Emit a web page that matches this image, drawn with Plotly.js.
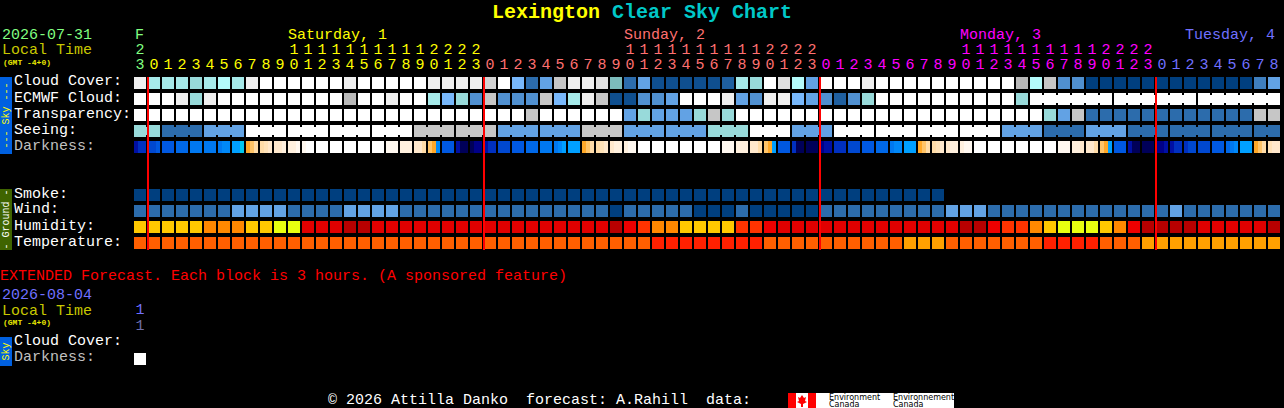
<!DOCTYPE html>
<html>
<head>
<meta charset="utf-8">
<script src="https://cdn.plot.ly/plotly-3.0.1.min.js"></script>
<style>html,body{margin:0;padding:0;background:#000;overflow:hidden}#chart{width:1284px;height:408px}</style>
</head>
<body>
<div id="chart"></div>
<script>
// ---------- values ----------
const hourDigits = [3,0,1,2,3,4,5,6,7,8,9,0,1,2,3,4,5,6,7,8,9,0,1,2,3,
  0,1,2,3,4,5,6,7,8,9,0,1,2,3,4,5,6,7,8,9,0,1,2,3,
  0,1,2,3,4,5,6,7,8,9,0,1,2,3,4,5,6,7,8,9,0,1,2,3,
  0,1,2,3,4,5,6,7,8];
const tensDigits = [2,'','','','','','','','','','',1,1,1,1,1,1,1,1,1,1,2,2,2,2,
  '','','','','','','','','','',1,1,1,1,1,1,1,1,1,1,2,2,2,2,
  '','','','','','','','','','',1,1,1,1,1,1,1,1,1,1,2,2,2,2,
  '','','','','','','','',''];
const dayOfColumn = [
  'Fri',
  'Sat','Sat','Sat','Sat','Sat','Sat','Sat','Sat','Sat','Sat','Sat','Sat','Sat','Sat','Sat','Sat','Sat','Sat','Sat','Sat','Sat','Sat','Sat','Sat',
  'Sun','Sun','Sun','Sun','Sun','Sun','Sun','Sun','Sun','Sun','Sun','Sun','Sun','Sun','Sun','Sun','Sun','Sun','Sun','Sun','Sun','Sun','Sun','Sun',
  'Mon','Mon','Mon','Mon','Mon','Mon','Mon','Mon','Mon','Mon','Mon','Mon','Mon','Mon','Mon','Mon','Mon','Mon','Mon','Mon','Mon','Mon','Mon','Mon',
  'Tue','Tue','Tue','Tue','Tue','Tue','Tue','Tue','Tue'];
const midnightColumns = [1,25,49,73];

const cloudCover = [95,65,65,65,60,65,70,65,95,100,100,100,100,100,100,95,100,100,100,100,100,
  95,95,95,95,85,100,50,20,40,80,95,95,90,55,20,40,10,10,10,10,10,15,65,60,100,90,70,40,100,100,100,
  95,100,100,100,100,100,100,100,100,100,100,75,70,80,30,30,0,0,0,0,0,0,0,0,0,0,0,0,25,40];
const ecmwfCloud = [100,100,100,95,60,95,100,100,100,100,100,100,100,100,100,75,100,100,95,100,100,
  65,50,60,30,80,30,30,30,80,50,65,95,80,10,10,30,30,40,100,100,100,95,40,30,95,95,50,40,30,15,30,
  60,100,100,100,100,100,100,100,100,100,100,60,100,100,100,100,100,100,100,100,100,100,100,100,100,100,100,100,100,100];
const ecmwfBlockStarts = [64,70,76];
const transparency = [100,100,100,100,100,100,100,100,100,100,100,100,100,100,100,100,100,100,100,100,100,100,100,100,100,100,100,100,
  80,100,100,100,100,100,100,40,60,40,40,40,60,80,60,
  100,100,100,100,100,100,100,100,100,100,100,100,100,100,100,100,100,100,100,100,100,100,
  60,40,80,20,20,20,20,20,20,20,20,20,20,20,20,80,80];
const seeing = [60,60,20,20,20,40,40,40,100,100,100,100,100,100,100,100,100,100,100,100,80,80,80,80,80,80,
  40,40,40,40,40,40,80,80,80,40,40,40,40,40,40,60,60,60,100,100,100,40,40,40,
  100,100,100,100,100,100,100,100,100,100,100,100,40,40,40,20,20,20,40,40,40,20,20,20,20,20,20,20,20,20,20,20];
const seeingBlockStarts = [0,2,5,8,11,14,17,20,23,26,29,32,35,38,41,44,47,50,53,56,59,62,65,68,71,74,77,80];
const darkness = [[15,20,20],[25,25,30],[30,30,30],[35,35,35],[40,40,40],[40,40,40],[40,45,45],[50,50,55],
  [60,65,70],[70,72,75],[75,75,80],[80,80,85],[85,100,100],[100,100,100],[100,100,100],[100,100,100],[100,100,100],[100,100,100],
  [85,85,85],[80,80,80],[75,75,70],[65,60,45],[30,30,30],[15,5,5],[5,10,10],
  [15,20,20],[25,25,25],[30,30,30],[35,35,35],[40,40,40],[40,45,50],[50,50,50],
  [60,65,70],[70,72,75],[75,80,80],[80,85,85],[100,100,100],[100,100,100],[100,100,100],[100,100,100],[100,100,100],[100,100,100],
  [85,85,85],[80,80,80],[75,75,70],[65,60,50],[30,30,30],[20,5,5],[5,5,5],
  [10,15,15],[20,20,20],[25,25,25],[30,30,30],[35,35,35],[40,45,45],[50,50,50],
  [60,65,70],[70,72,75],[75,80,80],[80,85,85],[100,100,100],[100,100,100],[100,100,100],[100,100,100],[100,100,100],[100,100,100],
  [85,85,85],[80,80,75],[75,75,70],[65,60,50],[30,30,30],[15,5,5],[5,5,5],
  [10,10,15],[15,20,20],[20,25,25],[25,25,25],[30,30,30],[35,40,45],[50,50,50],[60,65,70],[72,75,75]];
const smoke = [0,0,0,0,0,0,0,0,0,0,0,0,0,0,0,0,0,0,0,0,0,0,0,0,0,0,0,0,0,0,0,0,0,0,0,0,0,0,0,0,0,0,0,0,0,0,0,0,0,0,0,0,0,0,0,0,0,0];
const wind = [20,20,20,20,20,20,20,40,40,40,40,20,20,20,20,40,40,40,40,
  20,20,20,20,20,20,20,20,20,20,20,20,20,20,20,0,20,20,20,20,20,0,0,0,20,0,0,0,0,0,
  20,20,20,20,20,20,20,20,20,40,40,40,20,20,20,20,20,20,20,20,20,20,20,20,20,40,20,20,20,20,20,20,20];
const humidity = [65,65,65,65,65,70,70,70,65,65,55,55,90,90,90,95,95,
  90,90,90,90,90,90,90,90,90,90,90,90,90,90,90,90,90,95,85,80,70,70,65,65,65,65,80,80,85,
  90,90,90,90,90,90,90,90,90,90,90,90,90,95,95,85,80,80,70,65,55,55,55,65,70,85,95,95,95,95,90,90,90,90,90,95];
const temperature = [23,23,23,23,23,23,23,23,23,23,23,23,23,23,23,23,23,23,23,23,23,23,23,23,23,23,23,23,23,23,23,23,23,23,23,23,23,
  27,27,27,27,27,27,27,27,23,23,23,23,23,23,23,23,23,23,19,19,19,
  23,23,23,23,23,23,23,27,27,27,27,23,23,23,19,19,19,19,19,19,19,19,19,19];
const extendedDarkness = [100];

// ---------- colour keys ----------
const skyColors = {100:'#ffffff',95:'#efefef',90:'#e0e0e0',85:'#d2d2d2',80:'#c6c6c6',75:'#b8b8b8',70:'#b4fbfb',65:'#a6eaea',
  60:'#98dada',55:'#7cbcbc',50:'#78b8fb',40:'#62a2e4',30:'#5090d0',25:'#3f7fbf',20:'#2c6cac',15:'#1f5f9f',10:'#0f4f8f',0:'#003f7f'};
const darknessColors = {5:'#000058',10:'#000088',15:'#0010a4',20:'#0030c0',25:'#0048d0',30:'#0058e0',35:'#0068e8',40:'#0078f0',
  45:'#0088f8',50:'#00a0ff',55:'#00c8f0',60:'#ffa828',65:'#ffc468',70:'#ffdca8',72:'#ffe2b8',75:'#ffe8cc',80:'#fff0de',85:'#fff8f0',100:'#ffffff'};
const humidityColors = {55:'#e8ff10',65:'#ffc800',70:'#ff8800',80:'#ff3300',85:'#ee0000',90:'#e00000',95:'#b80000'};
const temperatureColors = {19:'#ffa000',23:'#ff5f00',27:'#ff2000'};
const dayColors = {Fri:'#80ff80',Sat:'#ffff00',Sun:'#ff7070',Mon:'#ff00ff',Tue:'#7070ff'};

// ---------- layout constants ----------
const W = 1284, H = 408, COL = 14, ROW = 16, CELL = 12;
const FONT = 'Liberation Mono, monospace';
const colOfPx = px => (px - 140) / COL;
const rowOfPx = py => (py - 83) / ROW;
const hRow = CELL / ROW, wCol = CELL / COL;

function cellTrace(values, row, colors) {
  const xs = values.map((_, k) => k);
  return {type:'bar', x:xs, y:xs.map(() => hRow), base:xs.map(() => row - hRow / 2), width:wCol,
    marker:{color:values.map(v => colors[v]), line:{width:0}}, hoverinfo:'skip'};
}
// small bridges inside a multi-hour forecast block: from the first block start to the end of the row
function joinTrace(values, row, starts, colors) {
  const xs = values.map((_, k) => k).filter(k => k >= starts[0] && k + 1 < values.length && !starts.includes(k + 1));
  const h = 8 / ROW;
  return {type:'bar', x:xs.map(k => k + 0.5), y:xs.map(() => h), base:xs.map(() => row - h / 2), width:2 / COL,
    marker:{color:xs.map(k => colors[values[k]]), line:{width:0}}, hoverinfo:'skip'};
}
function darknessTrace(samples, row) {
  const x = [], c = [];
  samples.forEach((s, k) => s.forEach((v, j) => { x.push(k + (j - 1) * 4 / COL); c.push(darknessColors[v]); }));
  return {type:'bar', x:x, y:x.map(() => hRow), base:x.map(() => row - hRow / 2), width:4 / COL,
    marker:{color:c, line:{width:0}}, hoverinfo:'skip'};
}
function digitTrace(digits, py, colorFn) {
  const xs = digits.map((_, k) => k);
  return {type:'scatter', mode:'text', x:xs, y:xs.map(() => rowOfPx(py)), text:digits.map(String),
    textposition:'middle center', textfont:{family:FONT, size:15, color:xs.map(colorFn)}, hoverinfo:'skip', cliponaxis:false};
}

const traces = [
  cellTrace(cloudCover, 0, skyColors),
  cellTrace(ecmwfCloud, 1, skyColors),
  joinTrace(ecmwfCloud, 1, ecmwfBlockStarts, skyColors),
  cellTrace(transparency, 2, skyColors),
  cellTrace(seeing, 3, skyColors),
  joinTrace(seeing, 3, seeingBlockStarts, skyColors),
  darknessTrace(darkness, 4),
  cellTrace(smoke, 7, skyColors),
  cellTrace(wind, 8, skyColors),
  cellTrace(humidity, 9, humidityColors),
  cellTrace(temperature, 10, temperatureColors),
  darknessTrace(extendedDarkness.map(v => [v, v, v]), rowOfPx(359)),
  digitTrace(tensDigits, 50, k => dayColors[dayOfColumn[k]]),
  digitTrace(hourDigits, 65, k => dayColors[dayOfColumn[k]]),
  digitTrace([1], 310, () => dayColors.Tue),
  digitTrace([1], 326, () => '#6f6fa8')
];

function label(text, x, y, color, size, extra) {
  return Object.assign({text:text, xref:'paper', yref:'paper', x:x / W, y:1 - y / H, xanchor:'left', yanchor:'middle',
    showarrow:false, borderpad:0, borderwidth:0, font:{family:FONT, size:size || 15, color:color}}, extra || {});
}
const logoFont = {family:'DejaVu Sans', size:8, color:'#000000'};
const annotations = [
  label('<b>Lexington</b>', 492, 12, '#ffff00', 20),
  label('<b>Clear Sky Chart</b>', 612, 12, '#00c8c8', 20),
  label('2026-07-31', 2, 35, '#80ff80'),
  label('Local Time', 2, 50, '#c8c800'),
  label('<b>(GMT -4+0)</b>', 3, 62, '#e8e800', 8),
  label('F', 135, 35, dayColors.Fri),
  label('Saturday, 1', 288, 35, dayColors.Sat),
  label('Sunday, 2', 624, 35, dayColors.Sun),
  label('Monday, 3', 960, 35, dayColors.Mon),
  label('Tuesday, 4', 1185, 35, dayColors.Tue),
  label('Cloud Cover:', 14, 82, '#ffffff'),
  label('ECMWF Cloud:', 14, 98, '#ffffff'),
  label('Transparency:', 14, 114, '#ffffff'),
  label('Seeing:', 14, 130, '#ffffff'),
  label('Darkness:', 14, 146, '#c0c0c0'),
  label('Smoke:', 14, 194, '#ffffff'),
  label('Wind:', 14, 210, '#ffffff'),
  label('Humidity:', 14, 226, '#ffffff'),
  label('Temperature:', 14, 242, '#ffffff'),
  label('EXTENDED Forecast. Each block is 3 hours. (A sponsored feature)', 0, 276, '#ff0000'),
  label('2026-08-04', 2, 295, dayColors.Tue),
  label('Local Time', 2, 311, '#c8c800'),
  label('<b>(GMT -4+0)</b>', 3, 322, '#e8e800', 8),
  label('Cloud Cover:', 14, 341, '#ffffff'),
  label('Darkness:', 14, 357, '#c0c0c0'),
  label('\u00a9 2026 Attilla Danko  forecast: A.Rahill  data:', 328, 400, '#ffffff'),
  label('--- Sky ---', 6, 115.5, '#ffff00', 10, {textangle:-90, xanchor:'center'}),
  label('- Ground -', 6, 219.5, '#ffffff', 10, {textangle:-90, xanchor:'center'}),
  label('Sky', 6, 351.5, '#ffff00', 10, {textangle:-90, xanchor:'center'}),
  label('Environment', 829, 397, '#000000', 8, {font:logoFont}),
  label('Canada', 829, 404, '#000000', 8, {font:logoFont}),
  label('Environnement', 893, 397, '#000000', 8, {font:logoFont}),
  label('Canada', 893, 404, '#000000', 8, {font:logoFont})
];

function box(x0, y0, x1, y1, color) {
  return {type:'rect', xref:'paper', yref:'paper', x0:x0 / W, x1:x1 / W, y0:1 - y0 / H, y1:1 - y1 / H,
    fillcolor:color, line:{width:0}, layer:'below'};
}
const shapes = [
  box(0, 77, 12, 154, '#0060e0'),
  box(0, 189, 12, 250, '#3f6400'),
  box(0, 337, 12, 366, '#0060e0'),
  box(788, 393, 954, 408, '#ffffff'),
  box(788, 393, 796, 408, '#ff0000'),
  box(808, 393, 816, 408, '#ff0000'),
  {type:'path', xref:'paper', yref:'paper', layer:'below', fillcolor:'#ff0000', line:{width:0},
   path:[[802,395],[804,398],[806,397],[805,401],[807,402],[803,404],[803,407],[801,407],[801,404],[797,402],[799,401],[798,397],[800,398]]
     .map((p, i) => (i ? 'L' : 'M') + (p[0] / W) + ',' + (1 - p[1] / H)).join(' ') + ' Z'}
].concat(midnightColumns.map(k => ({type:'rect', xref:'x', yref:'y', x0:k - 0.5, x1:k - 0.5 + 2 / COL,
  y0:rowOfPx(77), y1:rowOfPx(250), fillcolor:'#ff0000', line:{width:0}, layer:'above'})));

Plotly.newPlot('chart', traces, {
  width:W, height:H, margin:{l:0, r:0, t:0, b:0, pad:0}, showlegend:false, barmode:'overlay',
  paper_bgcolor:'#000000', plot_bgcolor:'#000000', font:{family:FONT},
  xaxis:{range:[colOfPx(0), colOfPx(W)], visible:false, fixedrange:true},
  yaxis:{range:[rowOfPx(H), rowOfPx(0)], visible:false, fixedrange:true},
  annotations:annotations, shapes:shapes
}, {displayModeBar:false});
</script>
</body>
</html>
